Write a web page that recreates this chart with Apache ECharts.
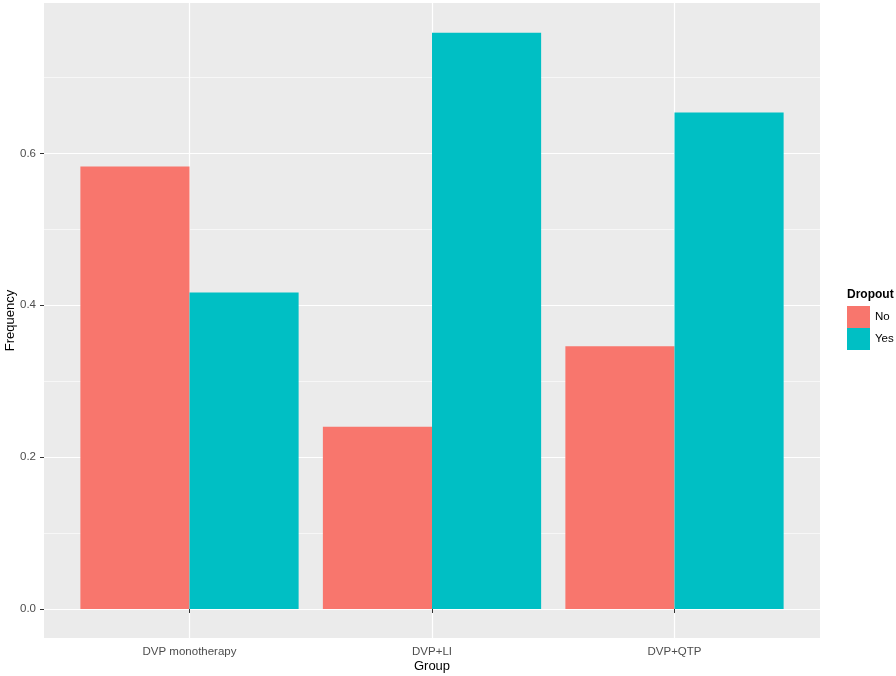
<!DOCTYPE html>
<html>
<head>
<meta charset="utf-8">
<script src="https://cdn.jsdelivr.net/npm/echarts@6/dist/echarts.min.js"></script>
<style>html,body{margin:0;padding:0;background:#fff}#c{width:896px;height:676px}</style>
</head>
<body>
<div id="c"></div>
<script>
const groups = ['DVP monotherapy', 'DVP+LI', 'DVP+QTP'];
const groupPos = [1, 2, 3];
const noValues = [0.583, 0.240, 0.346];
const yesValues = [0.417, 0.759, 0.654];
const yMajorTicks = [0.0, 0.2, 0.4, 0.6];
const yMinorTicks = [0.1, 0.3, 0.5, 0.7];

const FONT = '"Liberation Sans", Arial, sans-serif';
const gridLeft = 44, gridRight = 76, gridTop = 3, gridBottom = 38;
const plotW = 896 - gridLeft - gridRight;
const xMin = 0.4, xMax = 3.6;
const unitPx = plotW / (xMax - xMin);
const barW = 0.45 * unitPx;

const chart = echarts.init(document.getElementById('c'), null, {renderer: 'canvas'});
const yMin = -0.0382, yMax = 0.7982;

chart.setOption({
  animation: false,
  textStyle: {fontFamily: FONT},
  title: {
    text: 'Dropout', left: 847, top: 289, padding: 0,
    textStyle: {fontFamily: FONT, fontSize: 12, fontWeight: 'bold', color: '#000'}
  },
  legend: {
    orient: 'vertical', left: 847, top: 306, padding: 0,
    itemWidth: 23, itemHeight: 22, itemGap: 0,
    icon: 'rect',
    textStyle: {fontFamily: FONT, fontSize: 11.5, color: '#000'},
    data: ['No', 'Yes']
  },
  grid: {
    left: gridLeft, right: gridRight, top: gridTop, bottom: gridBottom,
    outerBoundsMode: 'none', containLabel: false,
    show: true, backgroundColor: '#EBEBEB', borderWidth: 0
  },
  xAxis: {
    type: 'value', min: xMin, max: xMax,
    name: 'Group', nameLocation: 'middle', nameGap: 22, nameMoveOverlap: false,
    nameTextStyle: {fontFamily: FONT, fontSize: 13, color: '#000'},
    axisLine: {show: false},
    axisTick: {show: true, length: 4, lineStyle: {color: '#333', width: 1}, customValues: groupPos},
    axisLabel: {customValues: groupPos, formatter: v => groups[Math.round(v) - 1] || '',
      fontFamily: FONT, fontSize: 11.5, color: '#4D4D4D', margin: 8},
    splitLine: {show: true, lineStyle: {color: '#fff', width: 1.2}}
  },
  yAxis: [{
    type: 'value', min: yMin, max: yMax,
    name: 'Frequency', nameLocation: 'middle', nameGap: 27, nameRotate: 90, nameMoveOverlap: false,
    nameTextStyle: {fontFamily: FONT, fontSize: 13, color: '#000'},
    axisLine: {show: false},
    axisTick: {show: true, length: 4, lineStyle: {color: '#333', width: 1}, customValues: yMajorTicks},
    axisLabel: {customValues: yMajorTicks, formatter: v => v.toFixed(1),
      fontFamily: FONT, fontSize: 11.5, color: '#4D4D4D', margin: 8},
    splitLine: {show: true, lineStyle: {color: '#fff', width: 1.2}}
  }, {
    type: 'value', min: yMin, max: yMax, position: 'left',
    axisLine: {show: false},
    axisTick: {show: false, customValues: yMinorTicks},
    axisLabel: {show: false, customValues: yMinorTicks},
    splitLine: {show: true, lineStyle: {color: '#fff', width: 0.6}}
  }],
  series: [{
    name: 'No', type: 'bar', barWidth: barW, barGap: '0%',
    itemStyle: {color: '#F8766D'},
    data: groupPos.map((x, i) => [x, noValues[i]])
  }, {
    name: 'Yes', type: 'bar', barWidth: barW, barGap: '0%',
    itemStyle: {color: '#00BFC4'},
    data: groupPos.map((x, i) => [x, yesValues[i]])
  }]
});
</script>
</body>
</html>
